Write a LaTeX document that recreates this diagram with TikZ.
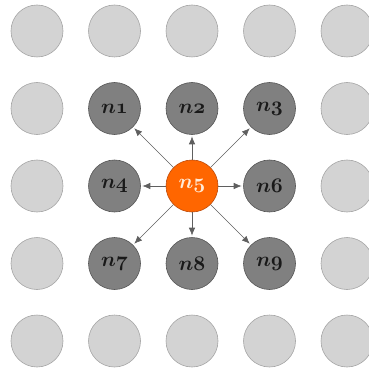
\documentclass[tikz,border=0pt]{standalone}
\usetikzlibrary{arrows.meta}
\definecolor{lightfill}{RGB}{211,211,211}
\definecolor{lightedge}{RGB}{165,165,165}
\definecolor{darkfill}{RGB}{128,128,128}
\definecolor{darkedge}{RGB}{85,85,85}
\definecolor{orangefill}{RGB}{255,102,0}
\definecolor{orangeedge}{RGB}{190,75,10}
\definecolor{arrowcol}{RGB}{95,95,95}
\definecolor{labeltext}{RGB}{25,25,25}
\definecolor{centertext}{RGB}{255,235,215}
\newcommand{\lab}[1]{{\boldmath$n\mathnormal{#1}$}}
\begin{document}
\begin{tikzpicture}[x=1pt,y=-1pt,
  cell/.style={circle,minimum size=52pt,inner sep=0pt,line width=0.6pt},
  faint/.style={cell,fill=lightfill,draw=lightedge},
  neigh/.style={cell,fill=darkfill,draw=darkedge,text=labeltext,font=\fontsize{20}{20}\selectfont},
  centre/.style={cell,fill=orangefill,draw=orangeedge,text=centertext,font=\fontsize{20}{20}\selectfont},
  link/.style={draw=arrowcol,line width=0.7pt,-{Latex[length=8pt,width=6.5pt]},shorten >=1.5pt}]
\useasboundingbox (0,0) rectangle (368,374);
% faint outer ring
\foreach \c/\r [count=\i] in {37/31,114.5/31,192/31,269.5/31,347/31,
  37/108.5,347/108.5,37/186,347/186,37/263.5,347/263.5,
  37/341,114.5/341,192/341,269.5/341,347/341}
  \node[faint] (f\i) at (\c,\r) {};
\node[neigh] (n1) at (114.5,108.5) {\lab{1}};
\node[neigh] (n2) at (192,108.5) {\lab{2}};
\node[neigh] (n3) at (269.5,108.5) {\lab{3}};
\node[neigh] (n4) at (114.5,186) {\lab{4}};
\node[centre] (n5) at (192,186) {\lab{5}};
\node[neigh] (n6) at (269.5,186) {\lab{6}};
\node[neigh] (n7) at (114.5,263.5) {\lab{7}};
\node[neigh] (n8) at (192,263.5) {\lab{8}};
\node[neigh] (n9) at (269.5,263.5) {\lab{9}};
\foreach \t in {n1,n2,n3,n4,n6,n7,n8,n9}
  \draw[link] (n5) -- (\t);
\end{tikzpicture}
\end{document}
